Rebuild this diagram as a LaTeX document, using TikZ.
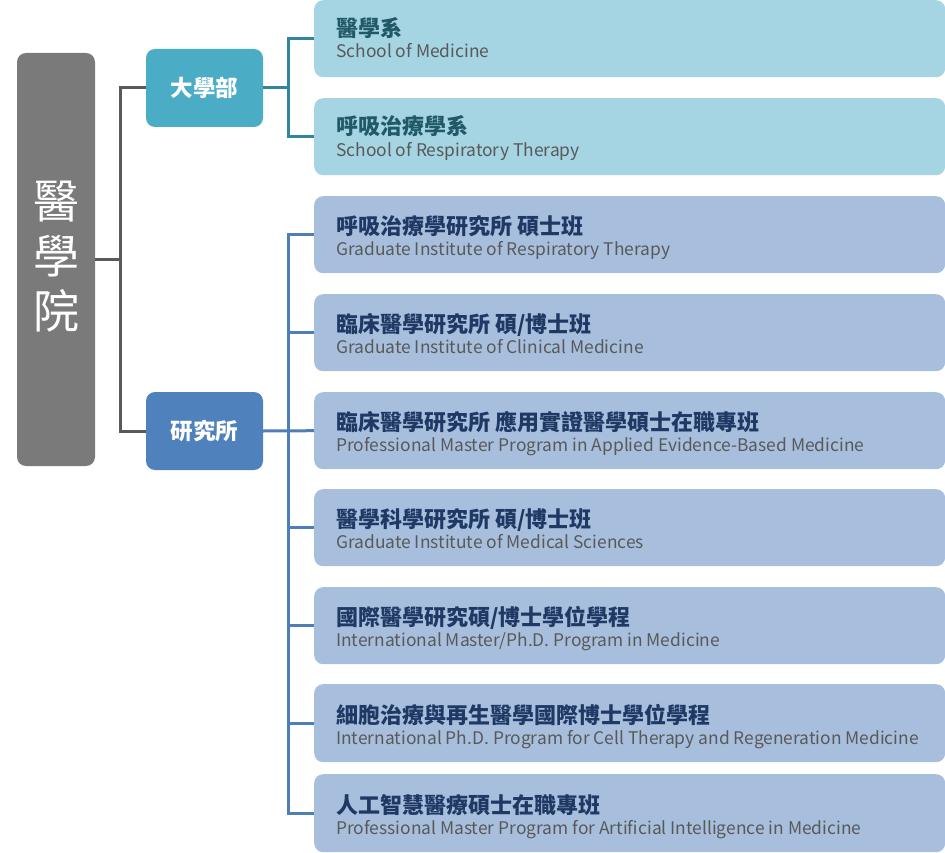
\documentclass[tikz,border=0pt]{standalone}
\usepackage{fontspec}
\setmainfont{Noto Sans CJK TC}
\definecolor{rootgray}{HTML}{7A7A7A}
\definecolor{linegray}{HTML}{595959}
\definecolor{ugfill}{HTML}{4BACC6}
\definecolor{grfill}{HTML}{4F81BD}
\definecolor{ugline}{HTML}{31859C}
\definecolor{grline}{HTML}{4F7DB8}
\definecolor{ugbox}{HTML}{A5D4E2}
\definecolor{grbox}{HTML}{A7BFDD}
\definecolor{ugtitle}{HTML}{215968}
\definecolor{grtitle}{HTML}{1F3864}
\definecolor{subgray}{HTML}{595959}
\begin{document}
\begin{tikzpicture}[x=1pt,y=-1pt,
  rootbox/.style={fill=rootgray,rounded corners=9pt,draw=none},
  midbox/.style={rounded corners=9pt,draw=none,minimum width=117pt,minimum height=78pt,text=white,font=\fontsize{22.5}{23}\selectfont\bfseries},
  leafbox/.style={rounded corners=9pt,draw=none,minimum width=631pt,minimum height=77pt,anchor=north west,inner sep=0pt},
  ttl/.style={anchor=base west,inner sep=0pt,font=\fontsize{22}{22}\selectfont\bfseries},
  sub/.style={anchor=base west,inner sep=0pt,text=subgray,font=\fontsize{17.4}{18}\selectfont},
  conn/.style={line width=3pt}
]
\useasboundingbox (0,0) rectangle (945,853);
% root
\node[rootbox,minimum width=78pt,minimum height=413pt,inner sep=0pt] (root) at (56,259.5) {};
\node[text=white,font=\fontsize{46}{55}\selectfont,align=center,inner sep=0pt] (roottxt) at (56,257) {醫\\學\\院};
% mid
\node[midbox,fill=ugfill] (ug) at (204.5,88) {大學部};
\node[midbox,fill=grfill] (gr) at (204.5,431) {研究所};
% leaves
\foreach \n/\y/\h in {l1/0/77,l2/98/77}{
  \node[leafbox,fill=ugbox,minimum height=\h pt] (\n) at (314,\y) {};
}
\foreach \n/\y/\h in {l3/196/77,l4/294/77,l5/392/77,l6/489/77,l7/587/77,l8/684/78,l9/774/78}{
  \node[leafbox,fill=grbox,minimum height=\h pt] (\n) at (314,\y) {};
}
% texts
\node[ttl,text=ugtitle] (t1) at (336,37) {醫學系};
\node[sub] (s1) at (336,58) {School of Medicine};
\node[ttl,text=ugtitle] (t2) at (336,135) {呼吸治療學系};
\node[sub] (s2) at (336,157) {School of Respiratory Therapy};
\foreach \n/\y/\a/\b in {
 3/196/{呼吸治療學研究所 碩士班}/{Graduate Institute of Respiratory Therapy},
 4/294/{臨床醫學研究所 碩/博士班}/{Graduate Institute of Clinical Medicine},
 5/392/{臨床醫學研究所 應用實證醫學碩士在職專班}/{Professional Master Program in Applied Evidence-Based Medicine},
 6/489/{醫學科學研究所 碩/博士班}/{Graduate Institute of Medical Sciences},
 7/587/{國際醫學研究碩/博士學位學程}/{International Master/Ph.D. Program in Medicine},
 8/685/{細胞治療與再生醫學國際博士學位學程}/{International Ph.D. Program for Cell Therapy and Regeneration Medicine},
 9/775/{人工智慧醫療碩士在職專班}/{Professional Master Program for Artificial Intelligence in Medicine}}{
  \node[ttl,text=grtitle] (t\n) at (336,\y+38) {\a};
  \node[sub] (s\n) at (336,\y+59) {\b};
}
% connectors
\coordinate (rj) at (120,259.5);
\draw[conn,linegray] (root.east |- rj) -- (rj);
\draw[conn,linegray] (ug.west) -| (rj) |- (gr.west);
\coordinate (uj) at (288,88);
\draw[conn,ugline] (ug.east) -- (uj);
\draw[conn,ugline] (l1.west) -| (uj) |- (l2.west);
\coordinate (gj) at (288,431);
\draw[conn,grline] (gr.east) -- (l5.west);
\draw[conn,grline] (l3.west) -| (gj) |- (l9.west);
\foreach \n in {4,6,7,8}{ \draw[conn,grline] (gj |- l\n.west) -- (l\n.west); }
\end{tikzpicture}
\end{document}
